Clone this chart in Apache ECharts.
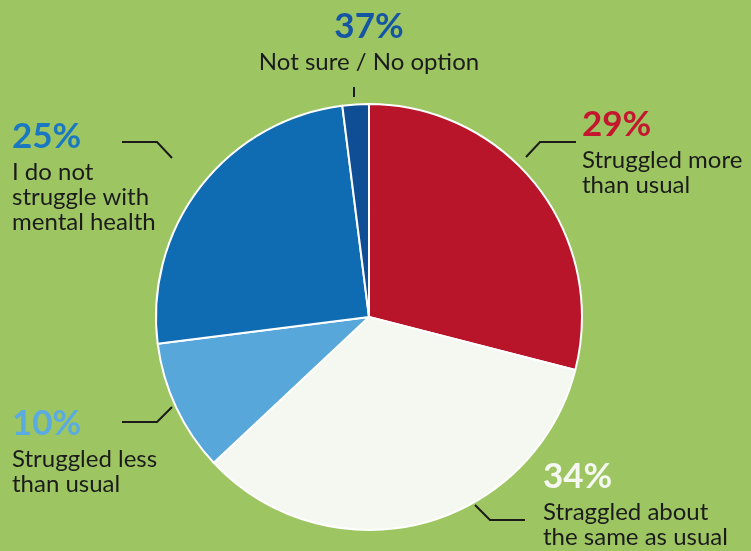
<!DOCTYPE html>
<html>
<head>
<meta charset="utf-8">
<script src="https://cdn.jsdelivr.net/npm/echarts@6/dist/echarts.min.js"></script>
<style>
  html, body { margin: 0; padding: 0; background: #9dc562; }
  #chart { width: 751px; height: 551px; }
</style>
</head>
<body>
<div id="chart"></div>
<script>
// Survey answers, clockwise from 12 o'clock
const categories = [
  'Struggled more\nthan usual',
  'Straggled about\nthe same as usual',
  'Struggled less\nthan usual',
  'I do not\nstruggle with\nmental health',
  'Not sure / No option'
];
const shares = [29, 34, 10, 25, 2];
const shareLabels = ['29%', '34%', '10%', '25%', '37%'];
const sliceColors = ['#b8152b', '#f5f8f1', '#58a7db', '#0f6cb3', '#0f4e95'];
const percentColors = ['#c4172f', '#f5f8f1', '#5aabe0', '#1a78c2', '#1556a4'];

// Where each text block sits and how its leader line runs
const labelSpots = [
  { x: 582, y: 102, align: 'left', line: [[526, 157], [540, 142], [576, 142]] },
  { x: 543, y: 454, align: 'left', line: [[475, 505], [490, 520], [525, 520]] },
  { x: 12, y: 401, align: 'left', line: [[172, 407], [157, 422], [122, 422]] },
  { x: 12, y: 114, align: 'left', line: [[172, 158], [157, 142], [122, 142]] },
  { x: 369, y: 4, align: 'center', line: [[354, 97], [354, 92], [354, 87]] }
];

const chart = echarts.init(document.getElementById('chart'));
chart.setOption({
  backgroundColor: '#9dc562',
  animation: false,
  series: [{
    type: 'pie',
    center: [369, 317],
    radius: 213,
    startAngle: 90,
    clockwise: true,
    itemStyle: { borderColor: '#ffffff', borderWidth: 2 },
    data: shares.map((v, i) => ({
      value: v,
      name: categories[i],
      itemStyle: { color: sliceColors[i] },
      label: {
        rich: {
          p: { fontFamily: 'Lato', fontWeight: 'bold', fontSize: 35, lineHeight: 46, color: percentColors[i], align: labelSpots[i].align },
          t: { fontFamily: 'Lato', fontSize: 24, lineHeight: 25, color: '#1b1b1b', align: labelSpots[i].align }
        }
      }
    })),
    label: {
      show: true,
      position: 'outside',
      overflow: 'none',
      formatter: (p) => '{p|' + shareLabels[p.dataIndex] + '}\n' +
        p.name.split('\n').map(s => '{t|' + s + '}').join('\n')
    },
    labelLine: {
      show: true,
      length: 10,
      length2: 10,
      lineStyle: { color: '#1b1b1b', width: 2 }
    },
    labelLayout: (params) => {
      const s = labelSpots[params.dataIndex];
      return {
        x: s.x,
        y: s.y,
        align: s.align,
        verticalAlign: 'top',
        labelLinePoints: s.line
      };
    }
  }]
});
</script>
</body>
</html>
